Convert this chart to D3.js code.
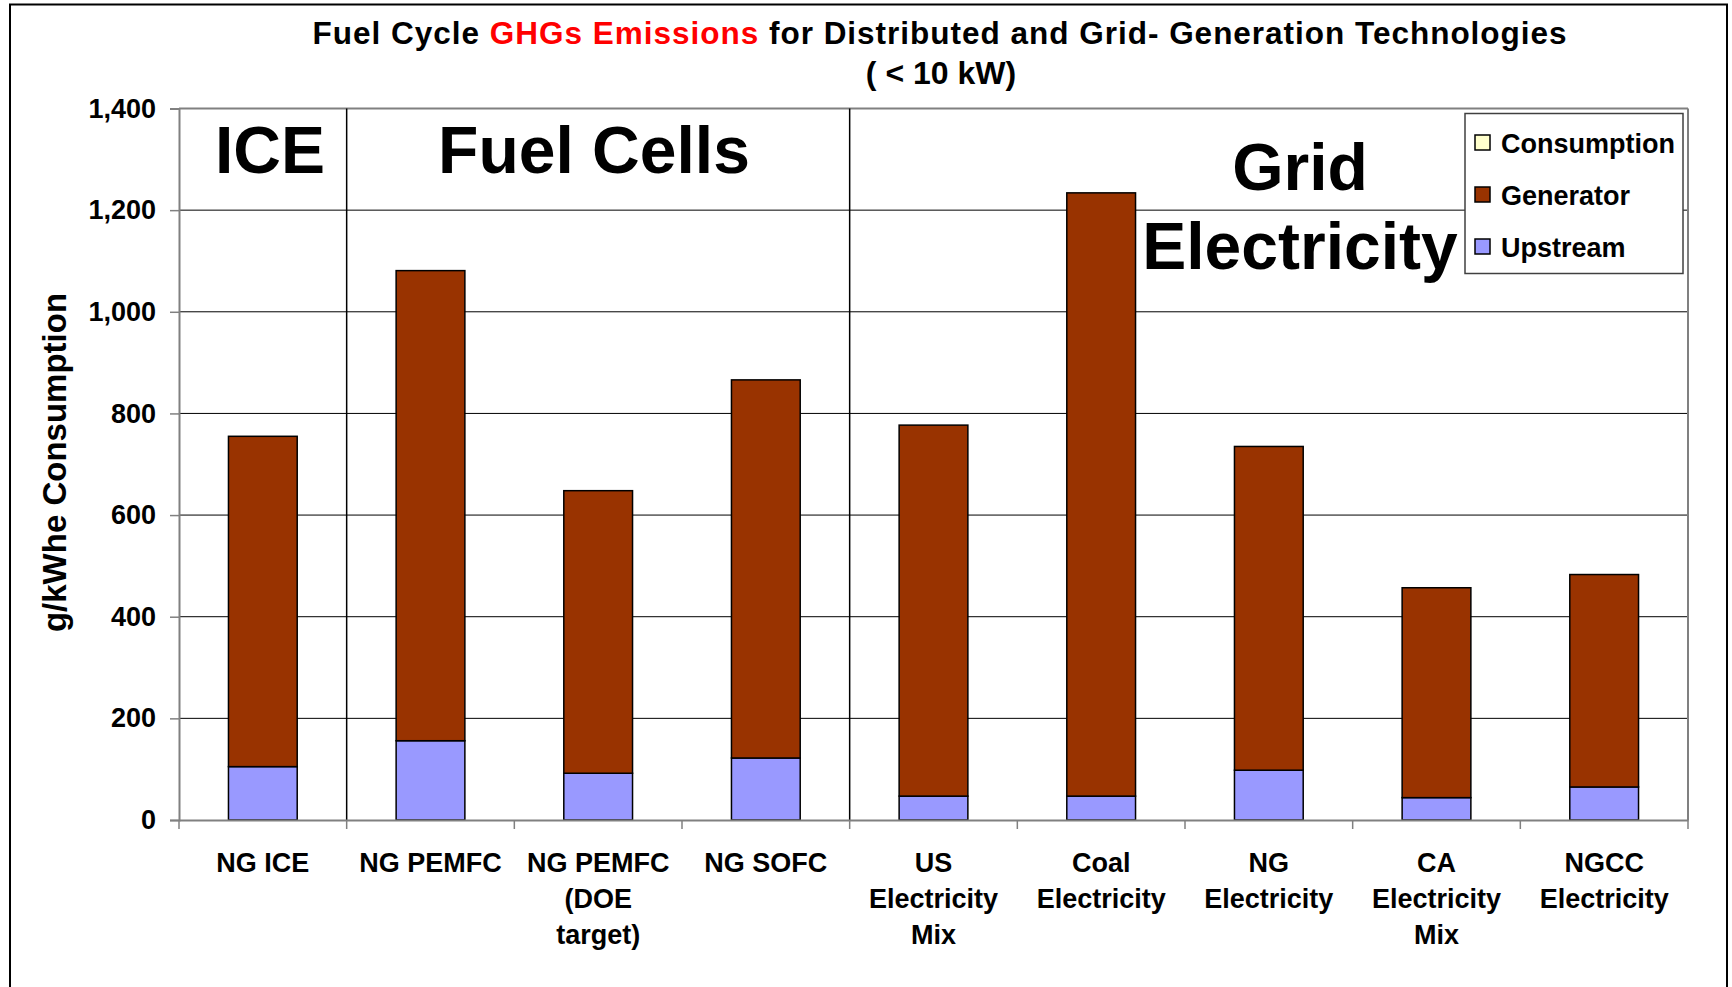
<!DOCTYPE html>
<html><head><meta charset="utf-8">
<script src="https://cdnjs.cloudflare.com/ajax/libs/d3/7.8.5/d3.min.js"></script>
<style>
html,body{margin:0;padding:0;background:#fff;}
svg{display:block;font-family:"Liberation Sans",Arial,sans-serif;font-weight:bold;}
</style></head>
<body>
<script>
const categories = [
  ["NG ICE"],
  ["NG PEMFC"],
  ["NG PEMFC","(DOE","target)"],
  ["NG SOFC"],
  ["US","Electricity","Mix"],
  ["Coal","Electricity"],
  ["NG","Electricity"],
  ["CA","Electricity","Mix"],
  ["NGCC","Electricity"]
];
const upstream    = [105, 156, 92, 122, 47, 47, 98, 44, 65];
const generator   = [650, 925, 556, 744, 730, 1187, 637, 413, 418];
const consumption = [0, 0, 0, 0, 0, 0, 0, 0, 0];
const seriesNames = ["Consumption","Generator","Upstream"];
const seriesColors = {Consumption:"#FFFFCC", Generator:"#993300", Upstream:"#9999FF"};
const yTicks = [0,200,400,600,800,1000,1200,1400];
const sections = [
  {lines:["ICE"], from:0, to:1},
  {lines:["Fuel Cells"], from:1, to:4},
  {lines:["Grid","Electricity"], from:4, to:9}
];

(function(){
const W = 1732, H = 987;
const svg = d3.select("body").append("svg").attr("width", W).attr("height", H);

svg.append("rect").attr("x",10).attr("y",4.5).attr("width",1717).attr("height",1100)
  .attr("fill","none").attr("stroke","#000").attr("stroke-width",2);

const pL = 179, pR = 1688, pT = 108.5, pB = 820;
const x = d3.scaleBand().domain(d3.range(categories.length)).range([pL,pR]).paddingInner(0).paddingOuter(0);
const y = d3.scaleLinear().domain([0,1400]).range([pB, pT]);

svg.append("g").selectAll("line").data(yTicks.filter(d=>d>0 && d<1400)).join("line")
  .attr("x1",pL).attr("x2",pR).attr("y1",d=>y(d)).attr("y2",d=>y(d))
  .attr("stroke","#000").attr("stroke-width",1);

svg.append("line").attr("x1",pL).attr("x2",pR).attr("y1",y(1400)).attr("y2",y(1400)).attr("stroke","#808080").attr("stroke-width",2);
svg.append("line").attr("x1",pR).attr("x2",pR).attr("y1",y(1400)).attr("y2",pB).attr("stroke","#808080").attr("stroke-width",2);

sections.slice(1).forEach(s=>{
  svg.append("line").attr("x1",x(s.from)).attr("x2",x(s.from)).attr("y1",y(1400)).attr("y2",pB)
    .attr("stroke","#000").attr("stroke-width",1.5);
});

const data = categories.map((c,i)=>({i, Upstream:upstream[i], Generator:generator[i], Consumption:consumption[i]}));
const stacked = d3.stack().keys(["Upstream","Generator","Consumption"])(data);
const bw = x.bandwidth()*0.41;
svg.append("g").selectAll("g").data(stacked).join("g")
  .attr("fill",d=>seriesColors[d.key])
  .selectAll("rect").data(d=>d.filter(v=>v[1]-v[0]>0)).join("rect")
  .attr("x",d=>x(d.data.i)+(x.bandwidth()-bw)/2)
  .attr("width",bw)
  .attr("y",d=>y(d[1]))
  .attr("height",d=>y(d[0])-y(d[1]))
  .attr("stroke","#000").attr("stroke-width",1.5);

const yAxis = d3.axisLeft(y).tickValues(yTicks).tickSize(9).tickPadding(14).tickFormat(d3.format(","));
const yg = svg.append("g").attr("transform",`translate(${pL},0)`).call(yAxis);
yg.select(".domain").attr("stroke","#808080").attr("stroke-width",2);
yg.selectAll(".tick line").attr("stroke","#808080").attr("stroke-width",1.5);
yg.selectAll("text").attr("font-size",27).attr("font-weight","bold").attr("fill","#000")
  .attr("font-family","'Liberation Sans',Arial,sans-serif");

const xAxis = d3.axisBottom(x).tickSize(0).tickFormat("");
const xg = svg.append("g").attr("transform",`translate(0,${pB})`).call(xAxis);
xg.select(".domain").attr("stroke","#808080").attr("stroke-width",2);
const bounds = d3.range(categories.length+1).map(i=> i<categories.length ? x(i) : pR);
xg.selectAll("line.bt").data(bounds).join("line").attr("class","bt")
  .attr("x1",d=>d).attr("x2",d=>d).attr("y1",0).attr("y2",9).attr("stroke","#808080").attr("stroke-width",1.5);

const xl = svg.append("g");
categories.forEach((lines,i)=>{
  const t = xl.append("text").attr("text-anchor","middle").attr("font-size",27).attr("fill","#000");
  lines.forEach((ln,k)=>{
    t.append("tspan").attr("x",x(i)+x.bandwidth()/2).attr("y",872+k*36).text(ln);
  });
});

svg.append("text").attr("transform","translate(66,462.5) rotate(-90)").attr("text-anchor","middle")
  .attr("font-size",33).attr("fill","#000").text("g/kWhe Consumption");

const title = svg.append("text").attr("x",312.6).attr("y",44.3).attr("font-size",31.5).attr("fill","#000")
  .attr("textLength",1254).attr("lengthAdjust","spacing");
title.append("tspan").text("Fuel Cycle ");
title.append("tspan").attr("fill","#ff0000").text("GHGs Emissions");
title.append("tspan").text(" for Distributed and Grid- Generation Technologies");
svg.append("text").attr("text-anchor","middle").attr("font-size",32).attr("fill","#000")
  .attr("x",941).attr("y",83.5).text("( < 10 kW)");

const secPos = [{cx:270, y:[172.7]},{cx:594,y:[173]},{cx:1300,y:[189.5,268.5]}];
sections.forEach((s,i)=>{
  const t = svg.append("text").attr("text-anchor","middle").attr("font-size",66).attr("fill","#000");
  s.lines.forEach((ln,k)=>t.append("tspan").attr("x",secPos[i].cx).attr("y",secPos[i].y[k]).text(ln));
});

const lg = svg.append("g").attr("transform","translate(1465,113.5)");
lg.append("rect").attr("width",218).attr("height",160).attr("fill","#fff").attr("stroke","#404040").attr("stroke-width",1.5);
seriesNames.forEach((n,k)=>{
  const cy = 29 + k*52;
  lg.append("rect").attr("x",10).attr("y",cy-7.5).attr("width",15).attr("height",15)
    .attr("fill",seriesColors[n]).attr("stroke","#000").attr("stroke-width",1.5);
  lg.append("text").attr("x",36).attr("y",cy+10).attr("font-size",27).attr("fill","#000").text(n);
});
})();
</script>
</body></html>
